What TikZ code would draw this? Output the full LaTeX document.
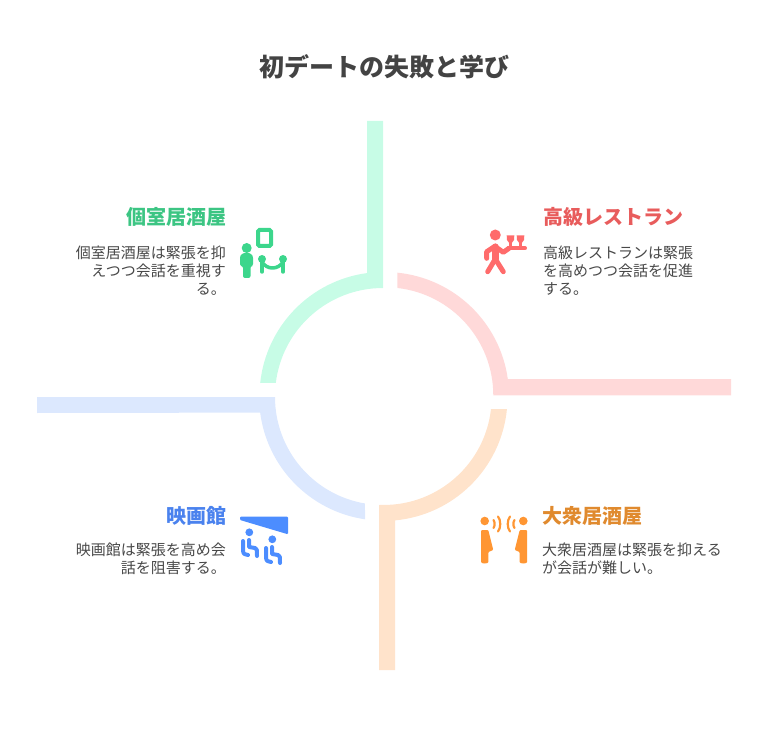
\documentclass[tikz,border=0pt]{standalone}
\usepackage{fontspec}
\setmainfont{Noto Sans CJK JP}
\definecolor{titlegray}{HTML}{434343}
\definecolor{bodygray}{HTML}{484848}
\definecolor{greenband}{HTML}{C7FCE6}
\definecolor{redband}{HTML}{FFD9D9}
\definecolor{blueband}{HTML}{DCE8FE}
\definecolor{orangeband}{HTML}{FFE3CB}
\definecolor{greenicon}{HTML}{3CD68C}
\definecolor{redicon}{HTML}{FF6B6B}
\definecolor{blueicon}{HTML}{4C8DFF}
\definecolor{orangeicon}{HTML}{FF9633}
\definecolor{greenhead}{HTML}{3CC583}
\definecolor{redhead}{HTML}{E85C5C}
\definecolor{bluehead}{HTML}{4A82EE}
\definecolor{orangehead}{HTML}{E08A2E}
\tikzset{
  titletext/.style={inner sep=0pt,text=titlegray,font=\fontsize{25}{30}\selectfont\bfseries},
  headtext/.style={inner sep=0pt,font=\fontsize{20}{24}\selectfont\bfseries},
  bodytext/.style={inner sep=0pt,text=bodygray,font=\fontsize{15}{18}\selectfont},
  iconline/.style={line width=#1,line cap=round,line join=round},
  iconline/.default=4pt
}
\begin{document}
\begin{tikzpicture}[x=1pt,y=1pt]
            \useasboundingbox (0,0) rectangle (768,732);

            % Drawing band of the green arc
            \fill [greenband] (367,611) -- (383,611) -- (383,444) arc [start angle=90,end angle=173,radius=108pt]
              -- (260.2,349) arc [start angle=174,end angle=97.6,radius=124pt] -- cycle;%

            % Drawing band of the red arc
            \fill [redband] (397.5,444) arc [start angle=83.5,end angle=0,radius=108pt] -- (731,336.7) -- (731,353) -- (507.8,353)
              arc [start angle=7.9,end angle=84.3,radius=124pt] -- cycle;%

            % Drawing band of the blue arc
            \fill [blueband] (37,319) -- (37,335) -- (275,335) arc [start angle=180,end angle=260.4,radius=108pt]
              -- (365,212.7) arc [start angle=261.6,end angle=187.4,radius=124pt] -- cycle;%

            % Drawing band of the orange arc
            \fill [orangeband] (379,62) -- (395,62) -- (395,211.6) arc [start angle=-84.7,end angle=-5.6,radius=124pt]
              -- (491,323) arc [start angle=-6.4,end angle=-90,radius=108pt] -- (379,227) -- cycle;%

            % Marking title
            \node [titletext] (title) at (384,665) {初デートの失敗と学び};%

            % Marking green texts
            \node [headtext,text=greenhead,anchor=east] (greenhead) at (227,515) {個室居酒屋};%
            \node [bodytext,align=right,anchor=north east] (greenbody) at (226,486) {個室居酒屋は緊張を抑\\えつつ会話を重視す\\る。};%

            % Marking red texts
            \node [headtext,text=redhead,anchor=west] (redhead) at (543,515) {高級レストラン};%
            \node [bodytext,align=left,anchor=north west] (redbody) at (543,486) {高級レストランは緊張\\を高めつつ会話を促進\\する。};%

            % Marking blue texts
            \node [headtext,text=bluehead,anchor=east] (bluehead) at (227,216) {映画館};%
            \node [bodytext,align=right,anchor=north east] (bluebody) at (226,189) {映画館は緊張を高め会\\話を阻害する。};%

            % Marking orange texts
            \node [headtext,text=orangehead,anchor=west] (orangehead) at (542,216) {大衆居酒屋};%
            \node [bodytext,align=left,anchor=north west] (orangebody) at (542,189) {大衆居酒屋は緊張を抑える\\が会話が難しい。};%

            % Drawing green icon
            \draw [greenicon,line width=4pt,rounded corners=1.5pt] (258,486) rectangle (271,502);%
            \fill [greenicon] (246.7,484) circle (5pt);%
            \fill [greenicon,rounded corners=2pt] (240,472) .. controls (240,481) and (253,481) .. (253,472)
              -- (253,466) -- (250.5,466) -- (250.5,454) -- (243,454) -- (243,466) -- (240,466) -- cycle;%
            \fill [greenicon] (262,473) circle (4pt);%
            \fill [greenicon] (283,473) circle (4pt);%
            \draw [greenicon,iconline=3.5pt] (262,473) -- (262,460);%
            \draw [greenicon,iconline=3.5pt] (283,473) -- (283,460);%
            \draw [greenicon,iconline=3.5pt] (262,470) .. controls (267,462) and (278,462) .. (283,470);%

            % Drawing red icon
            \fill [redicon] (495.3,497) circle (5.5pt);%
            \draw [redicon,iconline=7pt] (495.3,485) -- (495.3,473);%
            \draw [redicon,iconline=5pt] (495.3,473) -- (487.7,460.3);%
            \draw [redicon,iconline=5pt] (495.3,473) -- (503.3,460.3);%
            \draw [redicon,iconline=5pt] (495.3,486) -- (486.7,480.3) -- (486.7,473.7);%
            \draw [redicon,iconline=5pt] (495.3,485.3) -- (503.3,479.7) -- (509,483.7);%
            \draw [redicon,iconline=4pt] (508.3,483.7) -- (525,483.7);%
            \fill [redicon] (506.7,496.5) -- (514.3,496.5) -- (514,492) -- (511.8,489) -- (511.8,484) -- (509.2,484) -- (509.2,489) -- (507,492) -- cycle;%
            \fill [redicon] (516.7,496.5) -- (524.3,496.5) -- (524,492) -- (521.8,489) -- (521.8,484) -- (519.2,484) -- (519.2,489) -- (517,492) -- cycle;%

            % Drawing blue icon
            \fill [blueicon,rounded corners=1pt] (240,215.3) -- (288,215.3) -- (288,197.7) -- (240,212) -- cycle;%
            \fill [blueicon] (249.3,199.7) circle (3.9pt);%
            \fill [blueicon] (272.3,192.7) circle (3.9pt);%
            \draw [blueicon,iconline] (243,191) -- (243,182) .. controls (243,178) and (245,177) .. (248,177);%
            \draw [blueicon,iconline] (249,192) -- (249,185) -- (255,184) .. controls (257,184) and (257,182) .. (257,176);%
            \draw [blueicon,iconline] (266,184) -- (266,175) .. controls (266,171) and (268,170) .. (271,170);%
            \draw [blueicon,iconline] (272,185) -- (272,178) -- (278,177) .. controls (280,177) and (280,175) .. (280,169);%

            % Drawing orange icon
            \fill [orangeicon] (484.7,211) circle (4.3pt);%
            \fill [orangeicon] (523.3,211) circle (4.3pt);%
            \fill [orangeicon,rounded corners=1pt] (481,202) -- (488.3,202) -- (493.3,182) -- (488.3,180) -- (488.3,171) .. controls (488.3,168) and (481,168) .. (481,171) -- cycle;%
            \fill [orangeicon,rounded corners=1pt] (527,202) -- (519.7,202) -- (514.7,182) -- (519.7,180) -- (519.7,171) .. controls (519.7,168) and (527,168) .. (527,171) -- cycle;%
            \draw [orangeicon,iconline=2.2pt] (493.5,212) .. controls (495,210) and (495,206) .. (493.5,204);%
            \draw [orangeicon,iconline=2.2pt] (498,215.5) .. controls (501,212) and (501,204) .. (498,200.5);%
            \draw [orangeicon,iconline=2.2pt] (514.5,212) .. controls (513,210) and (513,206) .. (514.5,204);%
            \draw [orangeicon,iconline=2.2pt] (510,215.5) .. controls (507,212) and (507,204) .. (510,200.5);%
\end{tikzpicture}
\end{document}
